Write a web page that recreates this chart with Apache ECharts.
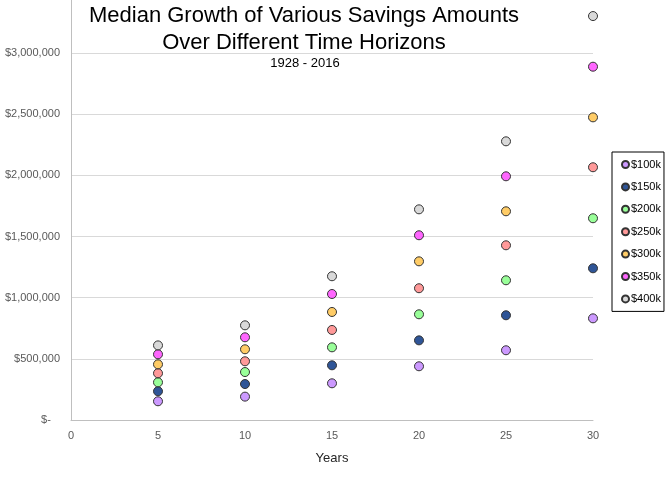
<!DOCTYPE html>
<html>
<head>
<meta charset="utf-8">
<script src="https://cdn.jsdelivr.net/npm/echarts@6/dist/echarts.min.js"></script>
<style>html,body{margin:0;padding:0;background:#fff}#c{width:669px;height:478px}</style>
</head>
<body>
<div id="c"></div>
<script>
const years = [5, 10, 15, 20, 25, 30];
const seriesNames = ['$100k', '$150k', '$200k', '$250k', '$300k', '$350k', '$400k'];
const s100k = [153000, 191000, 300000, 439000, 570000, 831000];
const s150k = [235000, 294000, 447000, 651000, 856000, 1240000];
const s200k = [308000, 392000, 594000, 864000, 1142000, 1649000];
const s250k = [382000, 480000, 736000, 1077000, 1428000, 2066000];
const s300k = [455000, 578000, 883000, 1297000, 1706000, 2474000];
const s350k = [537000, 676000, 1030000, 1510000, 1992000, 2888000];
const s400k = [610000, 774000, 1175000, 1722000, 2278000, 3302000];
const yTicks = [0, 500000, 1000000, 1500000, 2000000, 2500000, 3000000];
const xTicks = [0, 5, 10, 15, 20, 25, 30];

const allValues = [s100k, s150k, s200k, s250k, s300k, s350k, s400k];
const colors = ['#CC99FF', '#2F5597', '#99FF99', '#FF9999', '#FFCC66', '#FF66FF', '#D9D9D9'];

const chart = echarts.init(document.getElementById('c'), null, {renderer: 'canvas'});
const font = 'Liberation Sans, Arial, sans-serif';
chart.setOption({
  animation: false,
  textStyle: {fontFamily: font},
  title: [
    {text: 'Median Growth of Various Savings Amounts', left: 299, top: 0, textAlign: 'center',
     textStyle: {fontSize: 22, fontWeight: 'normal', color: '#000', fontFamily: font}},
    {text: 'Over Different Time Horizons', left: 299, top: 27, textAlign: 'center',
     textStyle: {fontSize: 22, fontWeight: 'normal', color: '#000', fontFamily: font}},
    {text: '1928 - 2016', left: 300, top: 52, textAlign: 'center',
     textStyle: {fontSize: 13, fontWeight: 'normal', color: '#000', fontFamily: font}}
  ],
  legend: {
    orient: 'vertical', left: 612, top: 152,
    itemWidth: 7, itemHeight: 7, itemGap: 11.4,
    padding: [7, 3, 7, 9],
    borderColor: '#000', borderWidth: 1,
    icon: 'circle',
    textStyle: {fontSize: 11, color: '#000', padding: [0, 0, 0, -3]},
    data: seriesNames
  },
  grid: {left: 71, right: 76, top: 53, bottom: 58, containLabel: false},
  xAxis: {
    type: 'value', min: 0, max: 30, interval: 5,
    axisLine: {show: true, lineStyle: {color: '#BFBFBF'}},
    axisTick: {show: false},
    splitLine: {show: false},
    axisLabel: {color: '#595959', fontSize: 11, margin: 10,
      formatter: v => xTicks.includes(v) ? String(v) : ''},
    name: 'Years', nameLocation: 'middle', nameGap: 32,
    nameTextStyle: {fontSize: 13, color: '#262626'}
  },
  yAxis: {
    type: 'value', min: 0, max: 3000000, interval: 500000,
    axisLine: {show: true, lineStyle: {color: '#BFBFBF'}},
    axisTick: {show: false},
    splitLine: {lineStyle: {color: '#D9D9D9'}},
    axisLabel: {color: '#595959', fontSize: 11, margin: 11,
      formatter: v => !yTicks.includes(v) ? '' : (v === 0 ? '$-   ' : '$' + v.toLocaleString('en-US'))}
  },
  series: seriesNames.map((n, i) => ({
    name: n, type: 'scatter', symbol: 'circle', symbolSize: 9,
    clip: false,
    itemStyle: {color: colors[i], borderColor: '#333', borderWidth: 1, opacity: 1},
    data: years.map((y, j) => [y, allValues[i][j]])
  }))
});
// extend the vertical axis line above the top gridline, as in the reference
const topPx = chart.convertToPixel({gridIndex: 0}, [0, 3000000]);
chart.setOption({
  graphic: [{type: 'line', silent: true, z: 0,
    shape: {x1: Math.round(topPx[0]) + 0.5, y1: 0, x2: Math.round(topPx[0]) + 0.5, y2: topPx[1]},
    style: {stroke: '#BFBFBF', lineWidth: 1}}]
});
</script>
</body>
</html>
